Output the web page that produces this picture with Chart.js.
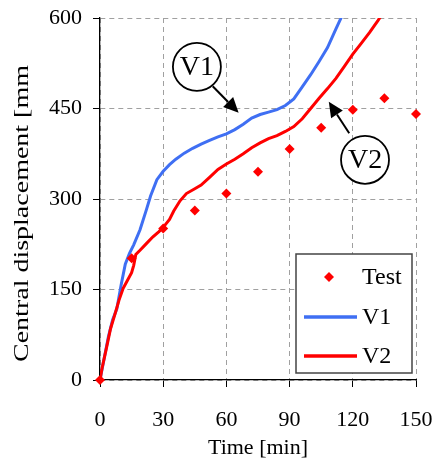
<!DOCTYPE html>
<html><head><meta charset="utf-8">
<script src="https://cdn.jsdelivr.net/npm/chart.js@4/dist/chart.umd.min.js"></script>
<style>html,body{margin:0;padding:0;background:#fff}#wrap{width:435px;height:459px;position:relative}</style>
</head><body><div id="wrap"><canvas id="c"></canvas></div>
<script>
// ---- data ----
const testTime = [0, 15, 30, 45, 60, 75, 90, 105, 120, 135, 150];
const testDisp = [0, 202, 251, 281, 309, 345, 383, 418, 448, 467, 441];

const v1Time = [0, 2, 4, 6, 8, 10, 12, 14, 16, 19, 22, 24, 27, 30, 33, 36, 40, 44, 48, 52, 56, 60, 64, 68, 72, 76, 80, 84, 88, 92, 96, 100, 104, 108, 112, 116];
const v1Disp = [0, 36, 72, 100, 118, 157, 192, 210, 224, 249, 282, 305, 332, 346, 357, 366, 376, 384, 391, 397, 403, 408, 415, 424, 434, 440, 444, 448, 455, 466, 486, 506, 528, 551, 582, 612];

const v2Time = [0, 1, 3, 5, 7, 9, 11, 13, 15, 16, 17, 19, 22, 25, 28, 30, 33, 35, 38, 41, 45, 48, 52, 56, 60, 64, 68, 72, 76, 80, 84, 88, 92, 96, 100, 104, 108, 112, 116, 120, 124, 128, 132, 135];
const v2Disp = [0, 20, 52, 85, 108, 132, 152, 165, 178, 190, 208, 215, 226, 237, 246, 253, 266, 280, 297, 309, 317, 323, 336, 349, 358, 366, 375, 385, 393, 400, 405, 412, 420, 433, 450, 467, 483, 500, 520, 540, 558, 576, 596, 612];

const xTicks = [0, 30, 60, 90, 120, 150];
const yTicks = [0, 150, 300, 450, 600];
const seriesLabels = ['Test', 'V1', 'V2'];
const xTitle = 'Time [min]';
const yTitle = 'Central displacement [mm';

// ---- build ----
const zip = (xs, ys) => xs.map((x, i) => ({x: x, y: ys[i]}));
const FONT = "'Liberation Serif', 'Times New Roman', serif";
const BLUE = '#3f6ff3';
const RED = '#ff0000';

function diamond(ctx, x, y, r, color) {
  ctx.save();
  ctx.fillStyle = color;
  ctx.beginPath();
  ctx.moveTo(x, y - r); ctx.lineTo(x + r, y); ctx.lineTo(x, y + r); ctx.lineTo(x - r, y);
  ctx.closePath(); ctx.fill();
  ctx.restore();
}

function arrow(ctx, x1, y1, x2, y2) {
  const ang = Math.atan2(y2 - y1, x2 - x1);
  const hl = 15, hw = 7;
  const bx = x2 - hl * Math.cos(ang), by = y2 - hl * Math.sin(ang);
  ctx.save();
  ctx.strokeStyle = '#000'; ctx.fillStyle = '#000'; ctx.lineWidth = 2;
  ctx.beginPath(); ctx.moveTo(x1, y1); ctx.lineTo(bx, by); ctx.stroke();
  ctx.beginPath();
  ctx.moveTo(x2, y2);
  ctx.lineTo(bx + hw * Math.sin(ang), by - hw * Math.cos(ang));
  ctx.lineTo(bx - hw * Math.sin(ang), by + hw * Math.cos(ang));
  ctx.closePath(); ctx.fill();
  ctx.restore();
}

const decorPlugin = {
  id: 'decor',
  afterDatasetsDraw(chart) {
    const ctx = chart.ctx;
    const xs = chart.scales.x, ys = chart.scales.y;
    const ca = chart.chartArea;
    // callouts (positions in data units)
    const callouts = [
      {text: 'V1', cx: 46, cy: 519, fx: 53.5, fy: 487, tx: 65.8, ty: 443},
      {text: 'V2', cx: 125.8, cy: 365, fx: 118.3, fy: 409, tx: 108.6, ty: 461}
    ];
    callouts.forEach(c => {
      const cx = xs.getPixelForValue(c.cx), cy = ys.getPixelForValue(c.cy);
      ctx.save();
      ctx.fillStyle = '#fff';
      ctx.strokeStyle = '#000'; ctx.lineWidth = 1.8;
      ctx.beginPath(); ctx.ellipse(cx, cy, 24, 24, 0, 0, Math.PI * 2); ctx.fill(); ctx.stroke();
      ctx.fillStyle = '#000';
      ctx.font = '28px ' + FONT;
      ctx.textAlign = 'center'; ctx.textBaseline = 'middle';
      ctx.fillText(c.text, cx, cy + 1);
      ctx.restore();
      arrow(ctx, xs.getPixelForValue(c.fx), ys.getPixelForValue(c.fy),
                 xs.getPixelForValue(c.tx), ys.getPixelForValue(c.ty));
    });
    // legend box
    const bx = ca.right - 120, by = ca.bottom - 126, bw = 116, bh = 119;
    ctx.save();
    ctx.fillStyle = '#fff';
    ctx.fillRect(bx, by, bw, bh);
    ctx.strokeStyle = '#444'; ctx.lineWidth = 1.5;
    ctx.strokeRect(bx, by, bw, bh);
    ctx.font = '24px ' + FONT;
    ctx.fillStyle = '#000'; ctx.textAlign = 'left'; ctx.textBaseline = 'middle';
    const ds = chart.data.datasets;
    const rows = [by + 23, by + 63, by + 102];
    ds.forEach((d, i) => {
      const ry = rows[i];
      if (d.showLine === false) {
        diamond(ctx, bx + 33, ry, 5, d.backgroundColor);
      } else {
        ctx.save();
        ctx.strokeStyle = d.borderColor; ctx.lineWidth = 3.5;
        ctx.beginPath(); ctx.moveTo(bx + 8, ry); ctx.lineTo(bx + 61, ry); ctx.stroke();
        ctx.restore();
      }
      ctx.fillText(d.label, bx + 66, ry + 1);
    });
    ctx.restore();
  },
  afterDraw(chart) {
    // y-axis title, rotated
    const ctx = chart.ctx;
    ctx.save();
    ctx.font = '22px ' + FONT;
    ctx.fillStyle = '#000';
    ctx.translate(22, 213.5);
    ctx.rotate(-Math.PI / 2);
    const w = ctx.measureText(yTitle).width;
    ctx.scale(297 / w, 1);
    ctx.textAlign = 'center'; ctx.textBaseline = 'middle';
    ctx.fillText(yTitle, 0, 0);
    ctx.restore();
  }
};

new Chart(document.getElementById('c'), {
  type: 'scatter',
  data: {
    datasets: [
      {label: seriesLabels[0], data: zip(testTime, testDisp), showLine: false,
       pointStyle: 'rectRot', pointRadius: 5, pointHoverRadius: 5, backgroundColor: RED, borderColor: RED, borderWidth: 0, clip: false, order: 0},
      {label: seriesLabels[1], data: zip(v1Time, v1Disp), showLine: true, pointRadius: 0, borderColor: BLUE, backgroundColor: BLUE, borderWidth: 3, tension: 0, clip: 0, order: 2},
      {label: seriesLabels[2], data: zip(v2Time, v2Disp), showLine: true, pointRadius: 0, borderColor: RED, backgroundColor: RED, borderWidth: 3, tension: 0, clip: 0, order: 1}
    ]
  },
  options: {
    responsive: true, maintainAspectRatio: false, animation: false,
    layout: {padding: {top: 18, right: 19, left: 0, bottom: 0}},
    plugins: {legend: {display: false}, tooltip: {enabled: false}},
    scales: {
      x: {
        type: 'linear', min: 0, max: 150,
        afterBuildTicks: s => { s.ticks = xTicks.map(v => ({value: v})); },
        afterFit: s => { s.height = 79; s.paddingLeft = 0; s.paddingRight = 0; },
        ticks: {color: '#000', font: {family: FONT, size: 22}, padding: 20, maxRotation: 0},
        grid: {color: '#a0a0a0', lineWidth: 1, tickLength: 7, tickColor: '#000', tickWidth: 1},
        border: {display: true, color: '#000', width: 1.3, dash: [5, 4]},
        title: {display: true, text: xTitle, color: '#000', font: {family: FONT, size: 22, lineHeight: 1}, padding: {top: 0, bottom: 0}}
      },
      y: {
        type: 'linear', min: 0, max: 600,
        afterBuildTicks: s => { s.ticks = yTicks.map(v => ({value: v})); },
        afterFit: s => { s.width = 100; s.paddingTop = 0; s.paddingBottom = 0; },
        ticks: {color: '#000', font: {family: FONT, size: 22}, padding: 11},
        grid: {color: '#a0a0a0', lineWidth: 1, tickLength: 7, tickColor: '#000', tickWidth: 1},
        border: {display: true, color: '#000', width: 1.3, dash: [5, 4]}
      }
    }
  },
  plugins: [decorPlugin]
});
</script>
</body></html>
